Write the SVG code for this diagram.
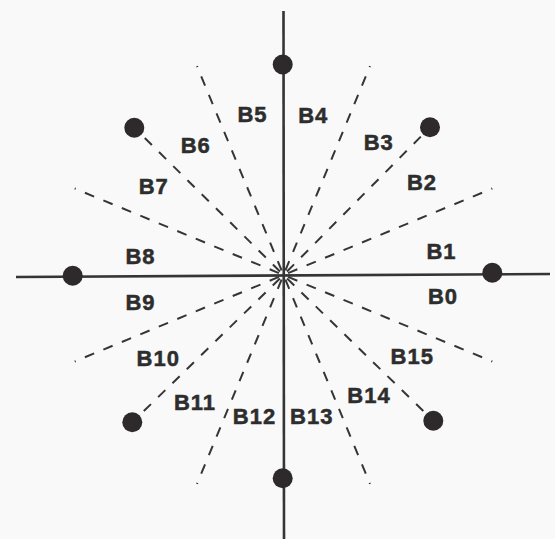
<svg xmlns="http://www.w3.org/2000/svg" width="555" height="539" viewBox="0 0 555 539">
<style>
.axis{stroke:#353535;stroke-width:2.6;fill:none}
.dash{stroke:#353535;stroke-width:2;stroke-dasharray:10 10;fill:none}
.dot{fill:#2e2a2c}
.lbl{font-family:"Liberation Sans",Arial,sans-serif;font-weight:bold;font-size:22px;letter-spacing:1px;fill:#2d2d2d;stroke:#2d2d2d;stroke-width:0.5;text-anchor:middle}
</style>
<rect width="555" height="539" fill="#f9f9f9"/>
<g id="connectors">
<line class="axis" x1="283.5" y1="11" x2="284" y2="539"/>
<line class="axis" x1="16" y1="277" x2="550" y2="274"/>
<line class="dash" x1="288.1" y1="273.1" x2="492.3" y2="188.5"/>
<line class="dash" x1="287" y1="271.5" x2="430" y2="127.3"/>
<line class="dash" x1="285.4" y1="270.4" x2="370" y2="66.2"/>
<line class="dash" x1="281.6" y1="270.4" x2="197" y2="66.2"/>
<line class="dash" x1="280" y1="271.5" x2="134.3" y2="127.7"/>
<line class="dash" x1="278.9" y1="273.1" x2="74.7" y2="188.5"/>
<line class="dash" x1="278.9" y1="276.9" x2="74.7" y2="361.5"/>
<line class="dash" x1="279.9" y1="278.5" x2="132.3" y2="422.3"/>
<line class="dash" x1="281.6" y1="279.6" x2="197" y2="483.8"/>
<line class="dash" x1="285.4" y1="279.6" x2="370" y2="483.8"/>
<line class="dash" x1="287.1" y1="278.5" x2="433.3" y2="420.7"/>
<line class="dash" x1="288.1" y1="276.9" x2="492.3" y2="361.5"/>
</g>
<g id="dot-e"><circle class="dot" cx="492.3" cy="272.7" r="10"/></g>
<g id="dot-ne"><circle class="dot" cx="430" cy="127.3" r="10"/></g>
<g id="dot-n"><circle class="dot" cx="282.7" cy="64.5" r="10"/></g>
<g id="dot-nw"><circle class="dot" cx="134.3" cy="127.7" r="10"/></g>
<g id="dot-w"><circle class="dot" cx="72.7" cy="275.7" r="10"/></g>
<g id="dot-sw"><circle class="dot" cx="132.3" cy="422.3" r="10"/></g>
<g id="dot-s"><circle class="dot" cx="282.7" cy="478.3" r="10"/></g>
<g id="dot-se"><circle class="dot" cx="433.3" cy="420.7" r="10"/></g>
<g id="labels">
<g id="B0"><text class="lbl" x="443" y="304">B0</text></g>
<g id="B1"><text class="lbl" x="441.5" y="259.3">B1</text></g>
<g id="B2"><text class="lbl" x="422" y="190">B2</text></g>
<g id="B3"><text class="lbl" x="378.7" y="150">B3</text></g>
<g id="B4"><text class="lbl" x="313.3" y="123.3">B4</text></g>
<g id="B5"><text class="lbl" x="252.5" y="121.7">B5</text></g>
<g id="B6"><text class="lbl" x="195.8" y="153.3">B6</text></g>
<g id="B7"><text class="lbl" x="153.8" y="194">B7</text></g>
<g id="B8"><text class="lbl" x="140.5" y="264.3">B8</text></g>
<g id="B9"><text class="lbl" x="140.5" y="310">B9</text></g>
<g id="B10"><text class="lbl" x="158.3" y="365.7">B10</text></g>
<g id="B11"><text class="lbl" x="195" y="410">B11</text></g>
<g id="B12"><text class="lbl" x="254.5" y="424">B12</text></g>
<g id="B13"><text class="lbl" x="311.7" y="424.3">B13</text></g>
<g id="B14"><text class="lbl" x="369" y="403.3">B14</text></g>
<g id="B15"><text class="lbl" x="412.3" y="364">B15</text></g>
</g>
</svg>
